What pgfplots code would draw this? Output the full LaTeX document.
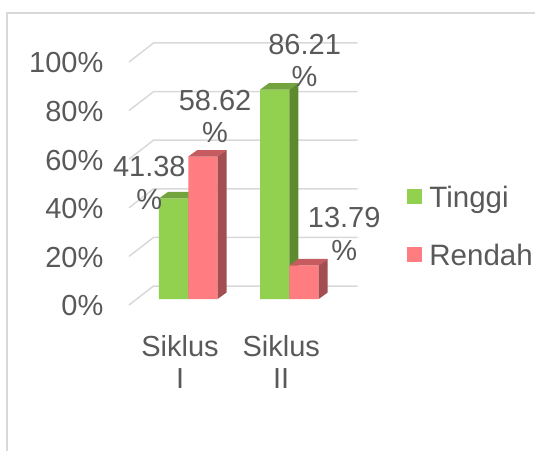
\documentclass[border=0pt]{standalone}
\usepackage{pgfplots}
\usepackage{pgfplotstable}
\pgfplotsset{compat=1.18}
\usepackage{fontspec}
\setmainfont{Liberation Sans}
\definecolor{txt}{HTML}{595959}
\definecolor{gridc}{HTML}{D9D9D9}
\definecolor{gfront}{HTML}{92D050}
\definecolor{gtop}{HTML}{72A33D}
\definecolor{gside}{HTML}{5E8A2F}
\definecolor{rfront}{HTML}{FF7C80}
\definecolor{rtop}{HTML}{C65C60}
\definecolor{rside}{HTML}{A34F52}
\newcommand\lblfont{\fontsize{29}{32.3}\selectfont}
\newcommand\legfont{\fontsize{29.5}{32.3}\selectfont}
\tikzset{lbl/.style={font=\lblfont, text=txt, align=center, inner sep=0pt, anchor=north, yshift=-2.5pt}}
% 3D faces of a bar: #1 category x, #2 bar shift, #3 value, #4 colour prefix
\newcommand\faces[4]{%
  \fill[#4top] ([xshift=#2-14.65pt]axis cs:#1,#3) -- ([xshift=#2+14.65pt]axis cs:#1,#3)
    -- ([xshift=#2+23.65pt,yshift=6.5pt]axis cs:#1,#3) -- ([xshift=#2-5.65pt,yshift=6.5pt]axis cs:#1,#3) -- cycle;
  \fill[#4side] ([xshift=#2+14.65pt]axis cs:#1,0) -- ([xshift=#2+23.65pt,yshift=6.5pt]axis cs:#1,0)
    -- ([xshift=#2+23.65pt,yshift=6.5pt]axis cs:#1,#3) -- ([xshift=#2+14.65pt]axis cs:#1,#3) -- cycle;
}
\pgfplotstableread{
x tinggi rendah
0 41.38 58.62
1 86.21 13.79
}\datatable
\begin{document}
\begin{tikzpicture}
\useasboundingbox (0,0) rectangle (535pt,450pt);
\draw[gridc, line width=1.5pt] (7pt,-2pt) -- (7pt,437pt) -- (537pt,437pt);
\begin{axis}[
  at={(129pt,151pt)}, anchor=south west,
  scale only axis, width=228.6pt, height=243pt,
  xmin=-0.5856, xmax=1.6736, ymin=0, ymax=100,
  ybar=0pt, bar width=29.3pt,
  axis line style={draw=none}, major tick style={draw=none},
  xtick={0,1}, xticklabels={{Siklus\\I},{Siklus\\II}},
  ytick={0,20,...,100}, yticklabels={0\%,20\%,40\%,60\%,80\%,100\%},
  ticklabel style={font=\lblfont, text=txt},
  xticklabel style={align=center, anchor=north, inner sep=0pt, xshift=-8.2pt, yshift=-32pt},
  yticklabel style={anchor=east, inner sep=0pt, xshift=-25.5pt, yshift=-7pt},
  clip=false,
  legend cell align=left,
  legend style={at={(1.2149,0.4638)}, anchor=north west, draw=none, fill=none,
    inner sep=0pt, outer sep=0pt, row sep=31pt, column sep=0pt,
    font=\legfont, text=txt, nodes={inner sep=0pt, text height=21pt, text depth=6pt}},
  legend image code/.code={\fill[#1] (0pt,-4.5pt) rectangle (15pt,10.5pt); \path (22.7pt,0pt);},
]
\pgfplotsinvokeforeach{0,20,40,60,80,100}{
  \draw[gridc, line width=1.5pt] ([yshift=-6pt]axis cs:-0.5856,#1) -- ([yshift=13pt]axis cs:-0.343,#1) -- ([yshift=13pt]axis cs:1.6736,#1);
}
\addplot[fill=gfront, draw=none] table[x=x, y=tinggi] {\datatable};
\addlegendentry{Tinggi}
\faces{0}{-14.65pt}{41.38}{g}
\faces{1}{-14.65pt}{86.21}{g}
\addplot[fill=rfront, draw=none] table[x=x, y=rendah] {\datatable};
\addlegendentry{Rendah}
\faces{0}{14.65pt}{58.62}{r}
\faces{1}{14.65pt}{13.79}{r}
\node[lbl] at (axis cs:-0.385,59.67) {41.38\\\%};
\node[lbl] at (axis cs:0.265,87.12) {58.62\\\%};
\node[lbl] at (axis cs:1.150,110.0) {86.21\\\%};
\node[lbl] at (axis cs:1.541,38.68) {13.79\\\%};
\end{axis}
\end{tikzpicture}
\end{document}
